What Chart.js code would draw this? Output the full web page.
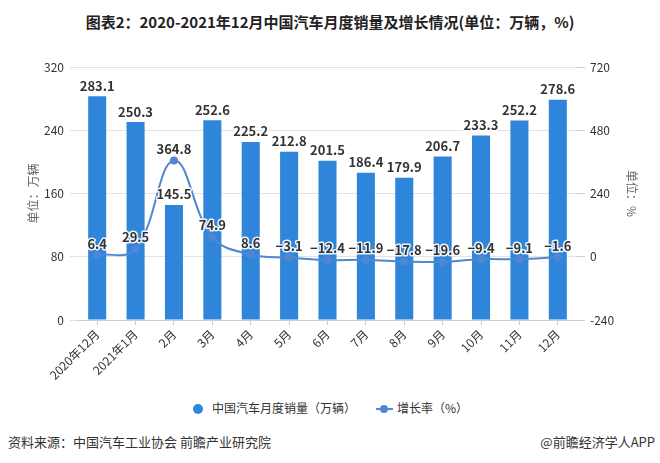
<!DOCTYPE html>
<html>
<head>
<meta charset="utf-8">
<script src="https://cdn.jsdelivr.net/npm/chart.js@4/dist/chart.umd.min.js"></script>
<style>
  body { margin: 0; background: #fff; font-family: "Noto Sans CJK SC", sans-serif; }
  #wrap { position: relative; width: 660px; height: 463px; overflow: hidden; }
  #title { position: absolute; left: 0; top: 11px; width: 660px; text-align: center;
           font-size: 15px; font-weight: bold; color: #222; line-height: 22px; }
  #chartBox { position: absolute; left: 0; top: 0; width: 660px; height: 390px; }
  #legend { position: absolute; top: 398px; left: 0; width: 660px; height: 20px; font-size: 12px; color: #333; }
  .lg { position: absolute; top: 0; line-height: 20px; white-space: nowrap; }
  #src { position: absolute; left: 8px; top: 432px; font-size: 13px; color: #333; }
  #app { position: absolute; right: 5px; top: 432px; font-size: 13px; color: #333; }
</style>
</head>
<body>
<div id="wrap">
  <div id="title">图表2：2020-2021年12月中国汽车月度销量及增长情况(单位：万辆，%)</div>
  <div id="chartBox"><canvas id="salesChart" width="660" height="390"></canvas></div>
  <div id="legend"></div>
  <div id="src">资料来源：中国汽车工业协会 前瞻产业研究院</div>
  <div id="app">@前瞻经济学人APP</div>
</div>
<script>
// 数据
const months = ["2020年12月", "2021年1月", "2月", "3月", "4月", "5月", "6月", "7月", "8月", "9月", "10月", "11月", "12月"];
const salesValues = [283.1, 250.3, 145.5, 252.6, 225.2, 212.8, 201.5, 186.4, 179.9, 206.7, 233.3, 252.2, 278.6];
const growthValues = [6.4, 29.5, 364.8, 74.9, 8.6, -3.1, -12.4, -11.9, -17.8, -19.6, -9.4, -9.1, -1.6];
const leftTicks = [0, 80, 160, 240, 320];
const rightTicks = [-240, 0, 240, 480, 720];

const barName = "中国汽车月度销量（万辆）";
const lineName = "增长率（%）";
const barColor = "#2e85d9";
const lineColor = "#4f87d3";
const fontFamily = '"Noto Sans CJK SC", sans-serif';

// 数值标签
const valueLabels = {
    id: 'valueLabels',
    afterDatasetsDraw(chart) {
        const ctx = chart.ctx;
        ctx.save();
        ctx.font = 'bold 13px ' + fontFamily;
        ctx.textAlign = 'center';
        ctx.textBaseline = 'bottom';
        ctx.lineJoin = 'round';
        // 先画柱子标签，再画折线标签
        [1, 0].forEach(i => {
            const meta = chart.getDatasetMeta(i);
            const values = chart.data.datasets[i].data;
            meta.data.forEach((el, j) => {
                const txt = String(values[j]).replace('-', '−');
                const y = meta.type === 'bar' ? el.y - 4 : el.y - 5;
                ctx.strokeStyle = 'rgba(255,255,255,0.9)';
                ctx.lineWidth = 3;
                ctx.strokeText(txt, el.x, y);
                ctx.fillStyle = '#333';
                ctx.fillText(txt, el.x, y);
            });
        });
        ctx.restore();
    }
};

const ctx = document.getElementById('salesChart').getContext('2d');
new Chart(ctx, {
    data: {
        labels: months,
        datasets: [
            {
                type: 'line',
                label: lineName,
                data: growthValues,
                yAxisID: 'y1',
                borderColor: lineColor,
                backgroundColor: lineColor,
                borderWidth: 2,
                tension: 0.4,
                pointRadius: 4,
                pointBackgroundColor: lineColor,
                pointBorderWidth: 0,
                order: 1
            },
            {
                type: 'bar',
                label: barName,
                data: salesValues,
                yAxisID: 'y',
                backgroundColor: barColor,
                barPercentage: 0.94,
                categoryPercentage: 0.5,
                order: 2
            }
        ]
    },
    options: {
        responsive: false,
        animation: false,
        layout: { padding: { top: 67, left: 0, right: 0, bottom: 0 } },
        plugins: { legend: { display: false }, tooltip: { enabled: false } },
        scales: {
            x: {
                grid: { display: true, drawOnChartArea: false, offset: false, tickLength: 5, color: '#ccc' },
                border: { color: '#ccc' },
                ticks: { color: '#333', font: { size: 12, family: fontFamily }, minRotation: 45, maxRotation: 45, padding: 2 },
                afterFit(scale) { scale.height = 70; }
            },
            y: {
                position: 'left',
                min: 0, max: 320,
                afterBuildTicks(scale) { scale.ticks = leftTicks.map(v => ({ value: v })); },
                grid: { color: '#e3e3e3', tickLength: 8 },
                border: { display: false },
                ticks: { color: '#333', font: { size: 12, family: fontFamily }, padding: 6 },
                title: { display: true, text: '单位：万辆', color: '#666', font: { size: 12, family: fontFamily }, padding: { top: 26, bottom: 0 } },
                afterFit(scale) { scale.width = 78; }
            },
            y1: {
                position: 'right',
                min: -240, max: 720,
                afterBuildTicks(scale) { scale.ticks = rightTicks.map(v => ({ value: v })); },
                grid: { drawOnChartArea: false, color: '#ccc', tickLength: 8 },
                border: { display: false },
                ticks: { color: '#333', font: { size: 12, family: fontFamily }, padding: 5 },
                title: { display: true, text: '单位：%', color: '#666', font: { size: 12, family: fontFamily }, padding: { top: 21, bottom: 0 } },
                afterFit(scale) { scale.width = 83; }
            }
        }
    },
    plugins: [valueLabels]
});

// 图例 (HTML)
const legend = document.getElementById('legend');
legend.innerHTML =
    '<div class="lg" style="left:193px"><span style="display:inline-block;width:10px;height:10px;border-radius:50%;background:' + barColor + ';vertical-align:-1px;margin-right:9px"></span>' + barName + '</div>' +
    '<div class="lg" style="left:376px"><span style="display:inline-block;position:relative;width:17px;height:10px;vertical-align:-1px;margin-right:4px">' +
    '<span style="position:absolute;left:0;top:4px;width:17px;height:2px;background:' + lineColor + '"></span>' +
    '<span style="position:absolute;left:4px;top:1px;width:8px;height:8px;border-radius:50%;background:' + lineColor + '"></span></span>' + lineName + '</div>';
</script>
</body>
</html>
